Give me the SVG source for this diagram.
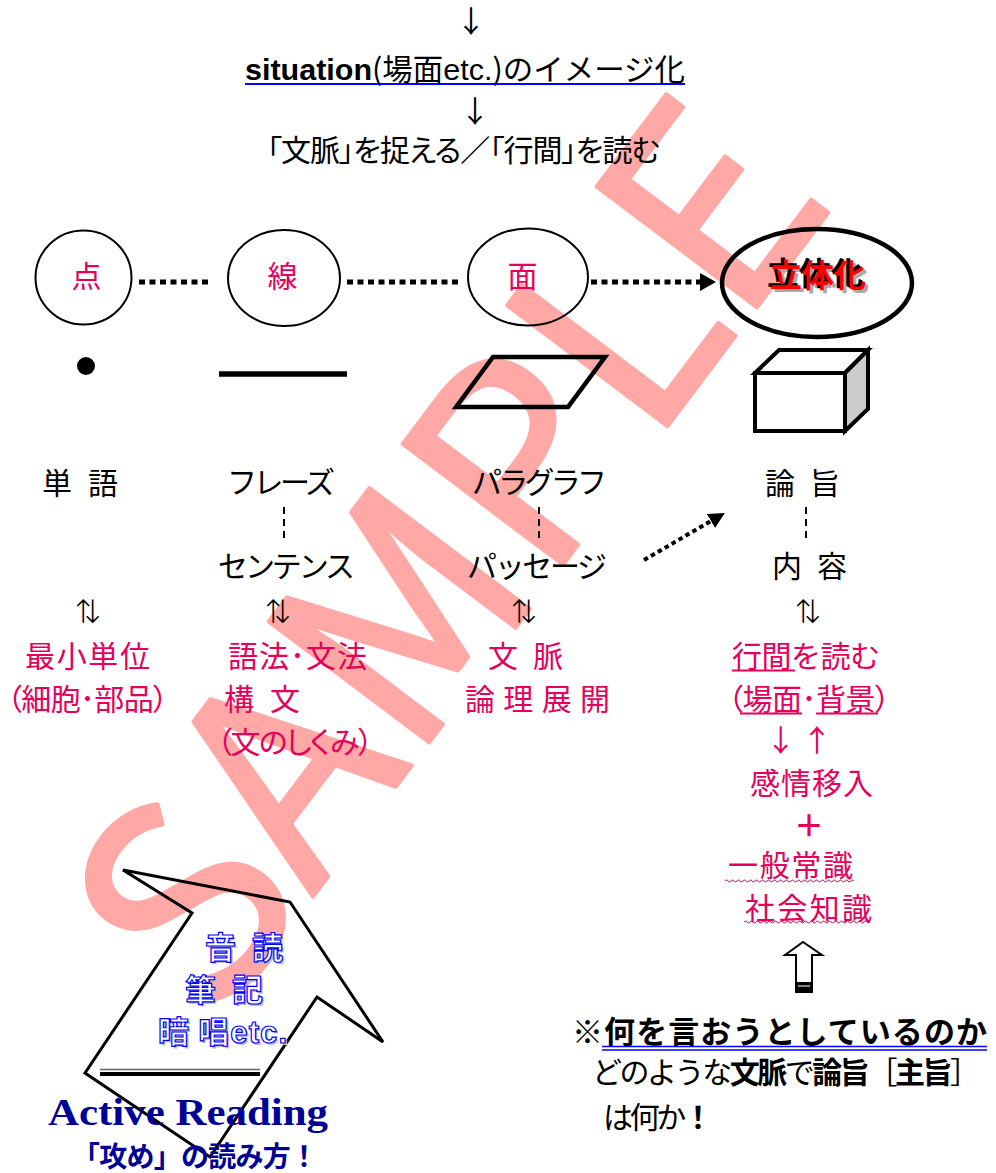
<svg xmlns="http://www.w3.org/2000/svg" width="996" height="1173" viewBox="0 0 996 1173">
<style>
text{font-family:'Noto Sans CJK JP',sans-serif;}
.k{fill:#000;font-size:30px;}
.p{fill:#E6005A;font-size:30px;}
.c{text-anchor:middle;}
.pa{font-feature-settings:'palt';}
.ser{font-family:'Liberation Serif','Noto Sans CJK JP',serif;}
.lat{font-family:'Liberation Sans','Noto Sans CJK JP',sans-serif;}
.node{fill:none;stroke:#000;stroke-width:2;}
.dots{fill:none;stroke:#000;stroke-width:5;stroke-dasharray:6 4.5;}
.dots2{fill:none;stroke:#000;stroke-width:4;stroke-dasharray:4.5 3.5;}
.vdash{stroke:#000;stroke-width:2;stroke-dasharray:7 5;}
.sh{fill:none;stroke:#000;stroke-width:4.5;stroke-linejoin:miter;}
.arr{font-family:'DejaVu Sans','Noto Sans CJK JP',sans-serif;font-weight:200;font-size:32px;fill:#000;text-anchor:middle;}
.bl{font-size:31px;font-weight:bold;fill:#fff;stroke:#0000FF;stroke-width:1.2;}
.bls{font-size:31px;font-weight:bold;fill:#BBBBBB;}
.wave{fill:none;stroke:#E6005A;stroke-width:1;}
.navy{fill:#000096;font-weight:bold;}
</style>
<defs>
<marker id="ah" viewBox="0 0 16 18" refX="0" refY="9" markerWidth="16" markerHeight="18" markerUnits="userSpaceOnUse" orient="auto">
<path d="M0,0 L16,9 L0,18 z" fill="#000"/>
</marker>
<marker id="ah2" viewBox="0 0 16 16" refX="0" refY="8" markerWidth="16" markerHeight="16" markerUnits="userSpaceOnUse" orient="auto">
<path d="M0,0 L16,8 L0,16 z" fill="#000"/>
</marker>
</defs>

<g id="watermark">
<text transform="translate(214,1028) rotate(-53)" font-family="'Liberation Sans',sans-serif" font-size="274" fill="#FFA8A6" stroke="#FFA8A6" stroke-width="4" stroke-linejoin="round">SAMPLE</text>
</g>

<g id="header">
<text class="k c" x="471" y="32" font-size="28">↓</text>
<text class="k" x="245" y="80" font-size="28" textLength="440" lengthAdjust="spacingAndGlyphs"><tspan class="lat" font-weight="bold">situation</tspan>(場面<tspan class="lat">etc.</tspan>)のイメージ化</text>
<line x1="245" y1="84" x2="685" y2="84" stroke="#0000FF" stroke-width="2"/>
<text class="k c" x="475" y="122" font-size="28">↓</text>
<text class="k pa" x="267" y="161" textLength="393">「文脈」を捉える／「行間」を読む</text>
</g>

<g id="connectors">
<path class="dots" d="M139,282 H209"/>
<path class="dots" d="M347,282 H462"/>
<path class="dots" d="M591,282 H700" marker-end="url(#ah)"/>
<path class="dots2" d="M644,560 L711,521" marker-end="url(#ah2)"/>
<line class="vdash" x1="284" y1="507" x2="284" y2="541"/>
<line class="vdash" x1="539" y1="507" x2="539" y2="541"/>
<line class="vdash" x1="806" y1="507" x2="806" y2="541"/>
</g>

<g id="node-ten">
<ellipse class="node" cx="83.5" cy="277.5" rx="48" ry="47"/>
<text class="p c" x="86.5" y="287">点</text>
<circle cx="86" cy="366" r="9" fill="#000"/>
<text class="k" x="42" y="494" textLength="76">単 語</text>
<text class="arr" x="88" y="621">⇅</text>
<text class="p" x="25" y="667" textLength="125">最小単位</text>
<text class="p pa" x="7" y="710" textLength="161">（細胞･部品）</text>
</g>

<g id="node-sen">
<ellipse class="node" cx="284" cy="278" rx="56" ry="48"/>
<text class="p c" x="282.5" y="287">線</text>
<line x1="219" y1="374" x2="347" y2="374" stroke="#000" stroke-width="5.5"/>
<text class="k" x="227" y="493" textLength="108">フレーズ</text>
<text class="k" x="218" y="577" textLength="137">センテンス</text>
<text class="arr" x="278" y="621">⇅</text>
<text class="p" x="228" y="667" textLength="139">語法･文法</text>
<text class="p" x="224" y="710" textLength="76">構 文</text>
<text class="p pa" x="217" y="753" textLength="156">（文のしくみ）</text>
</g>

<g id="node-men">
<ellipse class="node" cx="528" cy="277" rx="60" ry="48.5"/>
<text class="p c" x="522.5" y="287">面</text>
<polygon class="sh" points="456,407 493,357 605,357 568,407"/>
<text class="k" x="472" y="493" textLength="135">パラグラフ</text>
<text class="k" x="467" y="577" textLength="140">パッセージ</text>
<text class="arr" x="524" y="621">⇅</text>
<text class="p" x="488" y="667" textLength="75">文 脈</text>
<text class="p" x="465" y="710" textLength="145">論 理 展 開</text>
</g>

<g id="node-rittai">
<ellipse cx="817" cy="283" rx="95" ry="54" fill="none" stroke="#000" stroke-width="4.5"/>
<text x="821" y="290" text-anchor="middle" font-size="32" font-weight="bold" fill="#AAAAAA">立体化</text>
<text x="815" y="285" text-anchor="middle" font-size="32" font-weight="bold" fill="#000">立体化</text>
<text x="818" y="287" text-anchor="middle" font-size="32" font-weight="bold" fill="#FF0000">立体化</text>
<polygon points="755,373 779,350 868,350 845,373" fill="#fff" stroke="#000" stroke-width="4" stroke-linejoin="miter"/>
<polygon points="845,373 868,350 868,409 845,431" fill="#CCCCCC" stroke="#000" stroke-width="4" stroke-linejoin="miter"/>
<rect x="755" y="373" width="90" height="58" fill="#fff" stroke="#000" stroke-width="4"/>
<text class="k" x="765" y="494" textLength="75">論 旨</text>
<text class="k" x="772" y="577" textLength="75">内 容</text>
<text class="arr" x="808" y="621">⇅</text>
<text class="p" x="732" y="667" textLength="148">行間を読む</text>
<line x1="732" y1="670.5" x2="795" y2="670.5" stroke="#E6005A" stroke-width="2"/>
<text class="p pa" x="728" y="710" textLength="162">（場面･背景）</text>
<line x1="740" y1="713.5" x2="802" y2="713.5" stroke="#E6005A" stroke-width="2"/>
<line x1="816" y1="713.5" x2="878" y2="713.5" stroke="#E6005A" stroke-width="2"/>
<text class="p c" y="751"><tspan x="784">↓</tspan> <tspan x="817">↑</tspan></text>
<text class="p" x="750" y="794" textLength="123">感情移入</text>
<text class="p c" x="809" y="836" font-size="30" font-weight="bold">＋</text>
<text class="p" x="728" y="876" textLength="125">一般常識</text>
<path class="wave" d="M725,881 q1.5,-2 3,0 t3,0 t3,0 t3,0 t3,0 t3,0 t3,0 t3,0 t3,0 t3,0 t3,0 t3,0 t3,0 t3,0 t3,0 t3,0 t3,0 t3,0 t3,0 t3,0 t3,0 t3,0 t3,0 t3,0 t3,0 t3,0 t3,0 t3,0 t3,0 t3,0 t3,0 t3,0 t3,0 t3,0 t3,0 t3,0 t3,0 t3,0 t3,0 t3,0 t3,0 t3,0 t3,0"/>
<text class="p" x="745" y="919" textLength="127">社会知識</text>
<path class="wave" d="M744,922 q1.5,-2 3,0 t3,0 t3,0 t3,0 t3,0 t3,0 t3,0 t3,0 t3,0 t3,0 t3,0 t3,0 t3,0 t3,0 t3,0 t3,0 t3,0 t3,0 t3,0 t3,0 t3,0 t3,0 t3,0 t3,0 t3,0 t3,0 t3,0 t3,0 t3,0 t3,0 t3,0 t3,0 t3,0 t3,0 t3,0 t3,0 t3,0 t3,0 t3,0 t3,0 t3,0 t3,0"/>
</g>

<g id="up-arrow">
<path d="M803,942 L822,955 L812,955 L812,992 L796,992 L796,955 L785,955 Z" fill="#fff" stroke="#000" stroke-width="2" stroke-linejoin="miter"/>
<rect x="796" y="982" width="16" height="10" fill="#000"/>
<line x1="798" y1="986" x2="810" y2="986" stroke="#fff" stroke-width="1"/>
</g>

<g id="note">
<text x="572" y="1043" font-size="31" textLength="415" class="ser">※<tspan font-weight="bold">何を言おうとしているのか</tspan></text>
<line x1="602" y1="1046.5" x2="987" y2="1046.5" stroke="#0000FF" stroke-width="1.5"/>
<line x1="602" y1="1050" x2="987" y2="1050" stroke="#0000FF" stroke-width="1.5"/>
<text x="592" y="1083" font-size="30" textLength="388" class="ser">どのような<tspan font-weight="bold">文脈</tspan>で<tspan font-weight="bold">論旨</tspan>［<tspan font-weight="bold">主旨</tspan>］</text>
<text x="603" y="1128" font-size="30" textLength="110" class="ser">は何か<tspan font-weight="bold">！</tspan></text>
</g>

<g id="active-reading">
<polygon points="123,870 290,902 383,1042 317,997 210,1157 85,1073 192,913" fill="none" stroke="#000" stroke-width="3" stroke-linejoin="miter"/>
<text class="bls" x="207" y="961" textLength="78">音 読</text>
<text class="bl" x="205" y="959" textLength="78">音 読</text>
<text class="bls" x="187" y="1003" textLength="78">筆 記</text>
<text class="bl" x="185" y="1001" textLength="78">筆 記</text>
<text class="bls" x="160" y="1045" textLength="129">暗 唱<tspan class="lat">etc.</tspan></text>
<text class="bl" x="158" y="1043" textLength="129">暗 唱<tspan class="lat">etc.</tspan></text>
<line x1="100" y1="1069.5" x2="260" y2="1069.5" stroke="#666" stroke-width="1.5"/>
<line x1="100" y1="1074" x2="260" y2="1074" stroke="#000" stroke-width="4"/>
<text class="navy ser" x="48" y="1125" font-size="37" textLength="280" lengthAdjust="spacingAndGlyphs">Active Reading</text>
<text class="navy ser" x="72" y="1167" font-size="28" textLength="246">「攻め」の読み方！</text>
</g>
</svg>
